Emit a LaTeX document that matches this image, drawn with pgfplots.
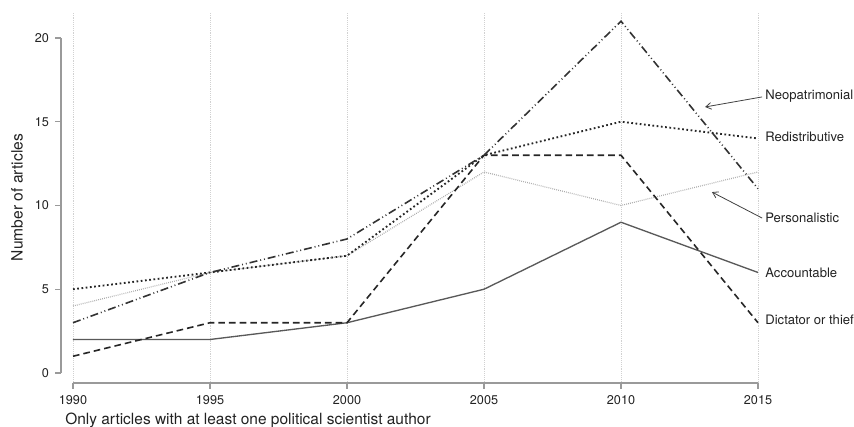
\documentclass[border=0pt]{standalone}
\usepackage{pgfplots}
\pgfplotsset{compat=1.18}
\usepackage{fontspec}
\setmainfont{TeX Gyre Heros}
\usetikzlibrary{arrows.meta}
\definecolor{axgray}{HTML}{9A9A9A}
\definecolor{txt}{HTML}{222222}
\begin{document}
\begin{tikzpicture}
\begin{axis}[
  scale only axis,
  width=522.75pt, height=278.25pt,
  xmin=1989.562, xmax=2015,
  ymin=-0.597, ymax=21.55,
  axis lines*=left,
  axis line style={draw=none},
  clip=false,
  xtick={1990,1995,2000,2005,2010,2015},
  ytick={0,5,10,15,20},
  xticklabel style={/pgf/number format/1000 sep={}, font=\fontsize{9.5}{11}\selectfont, text=txt, yshift=-1pt},
  yticklabel style={font=\fontsize{9.5}{11}\selectfont, text=txt, xshift=-1pt},
  /pgf/number format/assume math mode=true,
  tick align=outside,
  major tick length=4.5pt,
  every tick/.style={axgray, line width=1pt},
  xmajorgrids,
  major grid style={densely dotted, black!18, line width=0.6pt},
  xlabel={Only articles with at least one political scientist author},
  xlabel style={at={(rel axis cs:0,0)}, anchor=north west, inner sep=0pt, xshift=3pt, yshift=-22.5pt, font=\fontsize{11.6}{13}\selectfont, text=txt},
]
\coordinate (SW) at (rel axis cs:0,0);
\coordinate (NE) at (rel axis cs:1,1);
\coordinate (ML) at (rel axis cs:0,0.5);
% axis lines (Stata style, detached)
\draw[draw=axgray, line width=1.1pt] (axis cs:1990,-0.597) -- (axis cs:2015,-0.597);
\draw[draw=axgray, line width=1.1pt] (axis cs:1989.562,0) -- (axis cs:1989.562,20);

% Accountable
\addplot[color=black!65, line width=1pt] coordinates {
 (1990,2) (1995,2) (2000,3) (2005,5) (2010,9) (2015,6)};
% Personalistic
\addplot[color=black!33, line width=0.9pt, dash pattern=on 0.6pt off 0.9pt] coordinates {
 (1990,4) (1995,6) (2000,7) (2005,12) (2010,10) (2015,12)};
% Dictator or thief
\addplot[color=black!85, line width=1.2pt, dash pattern=on 5pt off 3pt] coordinates {
 (1990,1) (1995,3) (2000,3) (2005,13) (2010,13) (2015,3)};
% Redistributive
\addplot[color=black!85, line width=1.4pt, dash pattern=on 1.3pt off 1.9pt] coordinates {
 (1990,5) (1995,6) (2000,7) (2005,13) (2010,15) (2015,14)};
% Neopatrimonial
\addplot[color=black!80, line width=1.2pt, dash pattern=on 6pt off 2.2pt on 0.7pt off 2.2pt on 0.7pt off 2.2pt] coordinates {
 (1990,3) (1995,6) (2000,8) (2005,13) (2010,21) (2015,11)};

% labels
\begin{scope}[every node/.style={anchor=west, inner sep=0pt, font=\fontsize{9.8}{11}\selectfont, text=txt}]
\node at (axis cs:2015.26,16.5) {Neopatrimonial};
\node at (axis cs:2015.26,14.1) {Redistributive};
\node at (axis cs:2015.26,9.25) {Personalistic};
\node at (axis cs:2015.26,6.0) {Accountable};
\node at (axis cs:2015.26,3.2) {Dictator or thief};
\end{scope}
\draw[black!75, line width=0.6pt, -{Straight Barb[length=4pt,width=5pt]}] (axis cs:2015.15,16.48) -- (axis cs:2013.07,15.88);
\draw[black!75, line width=0.6pt, -{Straight Barb[length=4pt,width=5pt]}] (axis cs:2015.15,9.25) -- (axis cs:2013.32,10.8);
\end{axis}
% y axis title
\node[rotate=90, inner sep=0pt, font=\fontsize{11.7}{13}\selectfont, text=txt] at ([xshift=-33pt]ML) {Number of articles};
\pgfresetboundingbox
\path[use as bounding box] ([shift={(-45.75pt,-33pt)}]SW) rectangle ([shift={(72pt,9pt)}]NE);
\end{tikzpicture}
\end{document}
